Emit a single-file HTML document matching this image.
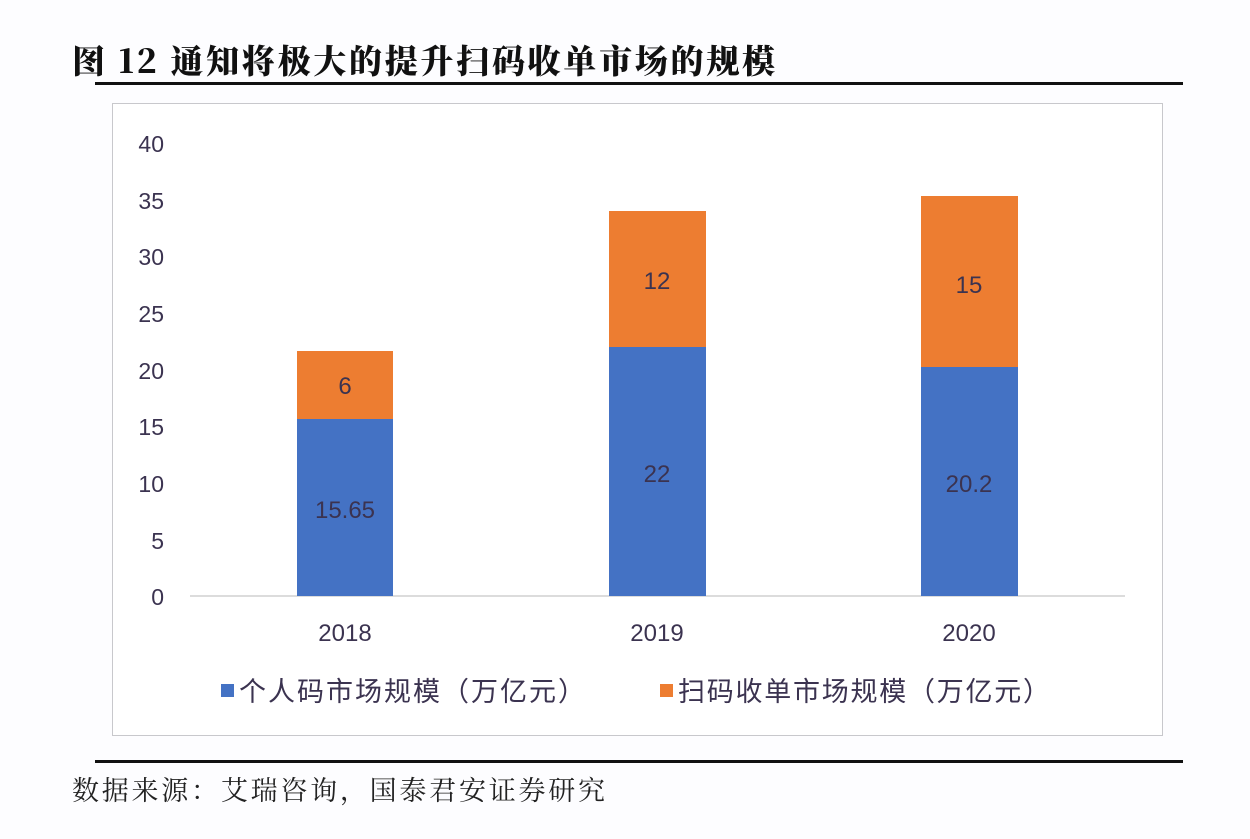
<!DOCTYPE html>
<html><head><meta charset="utf-8"><style>
body{margin:0;background:#fdfdff;width:1250px;height:834px;overflow:hidden;font-family:"Liberation Sans","Noto Sans CJK SC",sans-serif;}
</style></head><body>
<svg width="1250" height="834" xmlns="http://www.w3.org/2000/svg" font-family="Liberation Sans, Noto Sans CJK SC, sans-serif">
<rect width="1250" height="834" fill="#fdfdff"/>
<text x="72" y="73" font-family="Noto Serif CJK SC, serif" font-weight="900" font-size="33" fill="#111" textLength="703" lengthAdjust="spacing">图 12 通知将极大的提升扫码收单市场的规模</text>
<rect x="95" y="82" width="1088" height="3" fill="#111"/>
<rect x="112.5" y="103.5" width="1050" height="632" fill="#fff" stroke="#c8c8cc"/>
<g font-size="23" fill="#3b3350" text-anchor="end">
<text x="164" y="152">40</text><text x="164" y="209">35</text><text x="164" y="265">30</text><text x="164" y="322">25</text><text x="164" y="379">20</text><text x="164" y="435">15</text><text x="164" y="492">10</text><text x="164" y="549">5</text><text x="164" y="605">0</text>
</g>
<line x1="190" y1="596" x2="1125" y2="596" stroke="#d0d0d0" stroke-width="1.5"/>
<g fill="#4472c4">
<rect x="297" y="419" width="96" height="177"/><rect x="609" y="347" width="97" height="249"/><rect x="921" y="367" width="97" height="229"/>
</g>
<g fill="#ed7d31">
<rect x="297" y="351" width="96" height="68"/><rect x="609" y="211" width="97" height="136"/><rect x="921" y="196" width="97" height="171"/>
</g>
<g font-size="24" fill="#3b3350" text-anchor="middle">
<text x="345" y="518">15.65</text><text x="345" y="394">6</text>
<text x="657" y="482">22</text><text x="657" y="289">12</text>
<text x="969" y="492">20.2</text><text x="969" y="293">15</text>
<text x="345" y="641">2018</text><text x="657" y="641">2019</text><text x="969" y="641">2020</text>
</g>
<rect x="221" y="684" width="13" height="13" fill="#4472c4"/>
<text x="239" y="701" font-size="27" fill="#3b3350" textLength="346" lengthAdjust="spacing">个人码市场规模（万亿元）</text>
<rect x="660" y="684" width="13" height="13" fill="#ed7d31"/>
<text x="678" y="701" font-size="27" fill="#3b3350" textLength="372" lengthAdjust="spacing">扫码收单市场规模（万亿元）</text>
<rect x="95" y="760" width="1088" height="3" fill="#111"/>
<text x="72" y="800" font-family="Noto Serif CJK SC, serif" font-size="27" fill="#222" textLength="533" lengthAdjust="spacing">数据来源：艾瑞咨询，国泰君安证券研究</text>
</svg>
</body></html>
